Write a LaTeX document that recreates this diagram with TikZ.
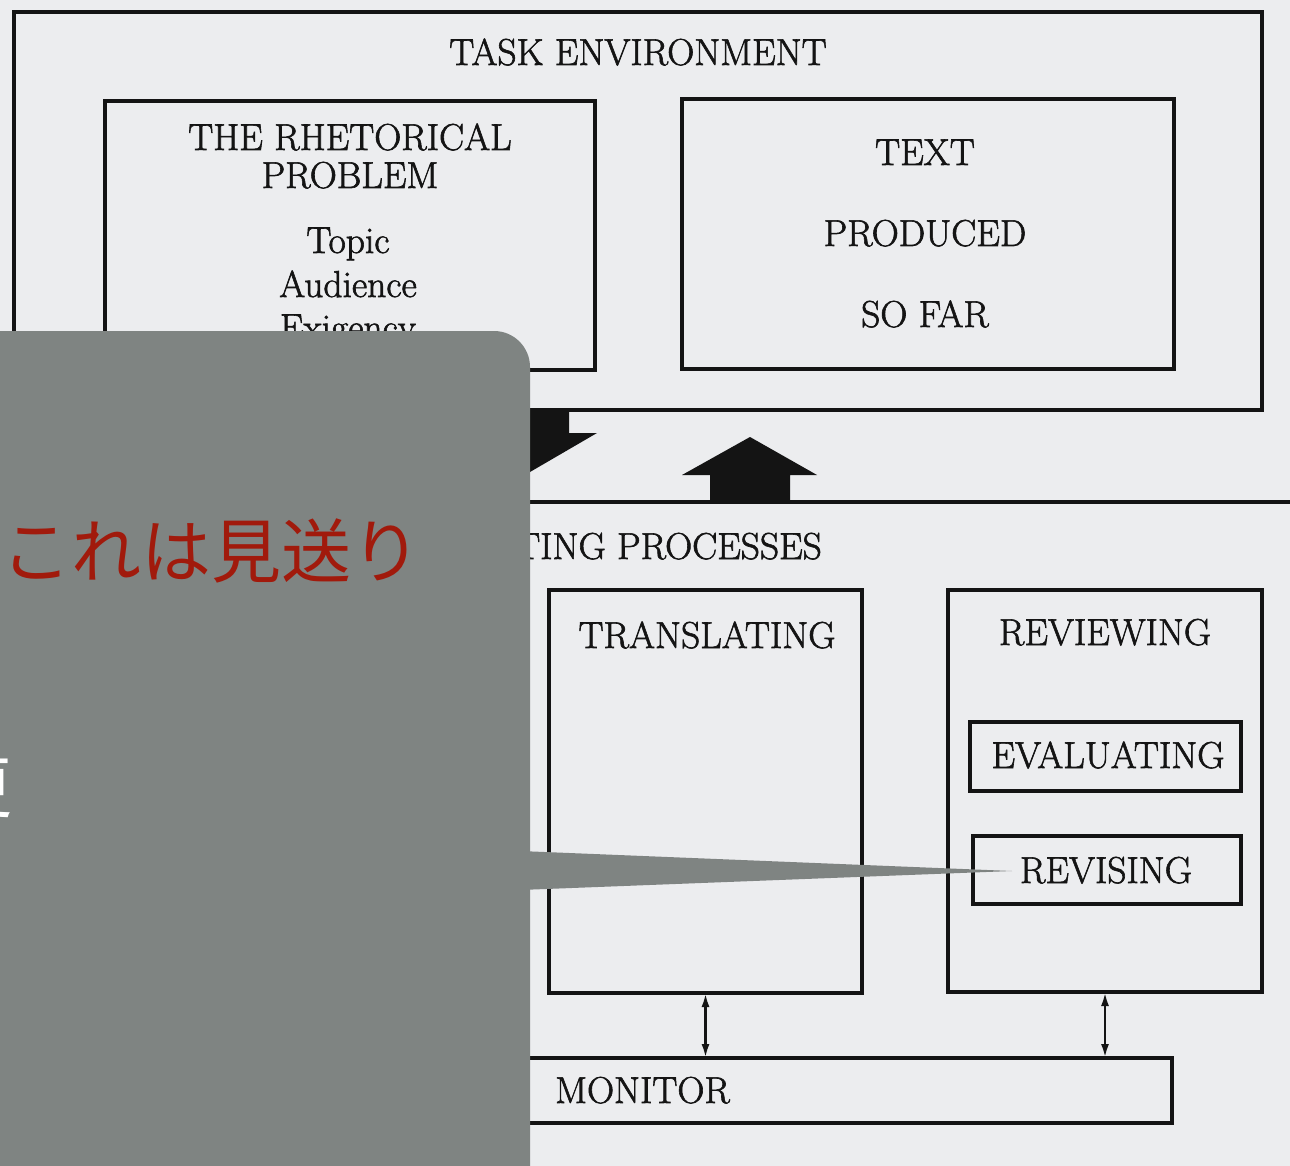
\documentclass[tikz,border=0pt]{standalone}
\usepackage{fontspec}
\newfontfamily\cjk{Noto Sans CJK JP}
\newfontfamily\dia{Latin Modern Roman}[FakeBold=1.6]
\usetikzlibrary{arrows.meta}
\definecolor{paper}{HTML}{ECEDEF}
\definecolor{ink}{HTML}{141414}
\definecolor{veil}{HTML}{7F8482}
\definecolor{note}{HTML}{A11A0C}
\tikzset{
  frame/.style={draw=ink, line width=3.2pt, inner sep=0pt, outer sep=0pt, anchor=north west},
  lbl/.style={text=ink, inner sep=0pt, anchor=base, font=\dia\fontsize{37.5}{44}\selectfont},
  blockarrow/.style={fill=ink, draw=none},
  link/.style={draw=ink, line width=2.6pt, {Latex[length=14pt,width=8pt]}-{Latex[length=14pt,width=8pt]}},
  veilfill/.style={fill=veil, draw=none},
}
\begin{document}
\begin{tikzpicture}[x=1pt,y=-1pt]
\fill[paper] (0,0) rectangle (1290,1166);
\useasboundingbox (0,0) rectangle (1290,1166);

% task environment
\node[frame, minimum width=1248pt, minimum height=398pt] (task) at (14,12) {};
\node[lbl] (tasklbl) at (638,65) {TASK ENVIRONMENT};
\node[frame, minimum width=490pt, minimum height=269pt] (rhet) at (105,101) {};
\node[lbl] (rh1) at (350,150) {THE RHETORICAL};
\node[lbl] (rh2) at (350,188) {PROBLEM};
\node[lbl] (rh3) at (348,253) {Topic};
\node[lbl] (rh4) at (348,297) {Audience};
\node[lbl] (rh5) at (348,340) {Exigency};
\node[frame, minimum width=492pt, minimum height=270pt] (textbox) at (682,99) {};
\node[lbl] (tx1) at (925,165) {TEXT};
\node[lbl] (tx2) at (925,246) {PRODUCED};
\node[lbl] (tx3) at (925,327) {SO FAR};

% block arrows
\fill[blockarrow] (490,410) -- (569,410) -- (569,433) -- (597,433) -- (530,472) -- (463,433) -- (490,433) -- cycle;
\fill[blockarrow] (710,502) -- (790,502) -- (790,475) -- (817,475) -- (750,437) -- (682,475) -- (710,475) -- cycle;

% writing processes
\node[frame, minimum width=1100pt, minimum height=700pt] (wp) at (230,502) {};
\node[lbl, anchor=base east] (wplbl) at (822,559) {WRITING PROCESSES};
\node[frame, minimum width=313pt, minimum height=403pt] (trans) at (549,590) {};
\node[lbl] (translbl) at (707,648) {TRANSLATING};
\node[frame, minimum width=314pt, minimum height=402pt] (rev) at (948,590) {};
\node[lbl] (revlbl) at (1105,645) {REVIEWING};
\node[frame, minimum width=271pt, minimum height=69pt] (eval) at (970,722) {};
\node[lbl] (evallbl) at (1108,768) {EVALUATING};
\node[frame, minimum width=268pt, minimum height=68pt] (revis) at (973,836) {};
\node[lbl] (revislbl) at (1106,883) {REVISING};
\node[frame, minimum width=872pt, minimum height=65pt] (mon) at (300,1058) {};
\node[lbl, anchor=base west] (monlbl) at (555,1103) {MONITOR};

\draw[link] (trans.south) -- (trans.south |- mon.north);
\draw[link] (rev.south) -- (rev.south |- mon.north);

% overlay callout
\fill[veilfill, rounded corners=36pt] (-100,331) rectangle (530,1300);
\coordinate (tip) at (1012,871);
\fill[veilfill] (520,851) -- (tip) -- (520,890) -- cycle;
\node[anchor=base west, inner sep=0pt, text=note, font=\cjk\fontsize{70}{80}\selectfont] (memo) at (1,577) {これは見送り};
\node[anchor=base west, inner sep=0pt, text=white, font=\cjk\fontsize{68}{80}\selectfont] (cut) at (-56,812) {更};
\end{tikzpicture}
\end{document}
